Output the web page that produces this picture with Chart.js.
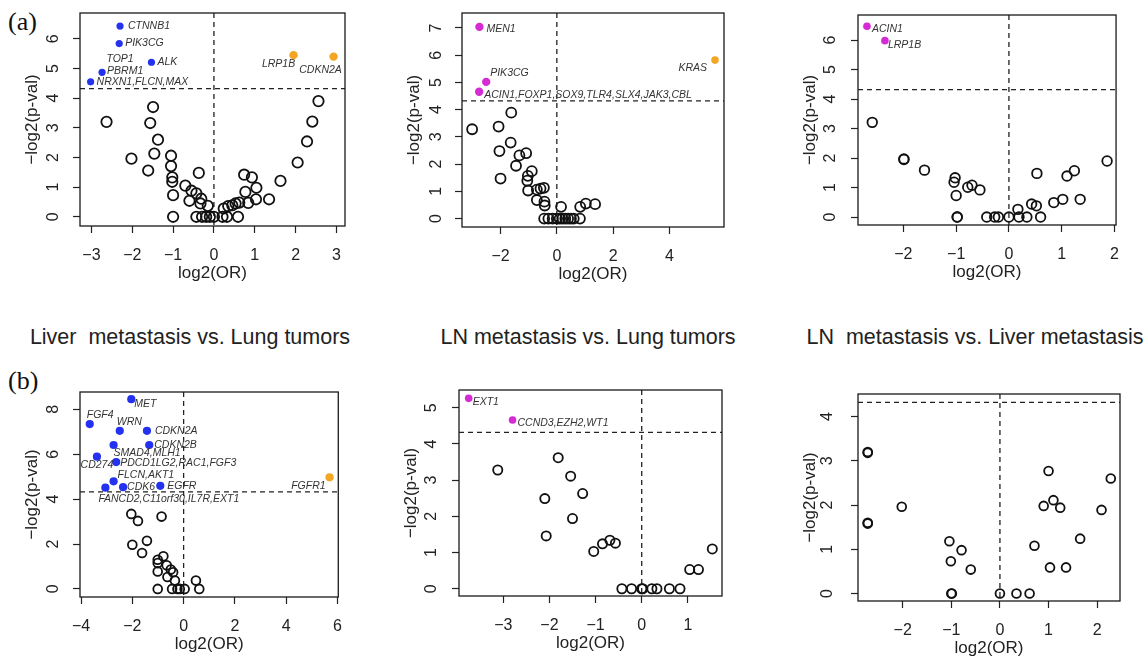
<!DOCTYPE html>
<html><head><meta charset="utf-8">
<script src="https://cdn.jsdelivr.net/npm/chart.js@4.4.1/dist/chart.umd.min.js"></script>
<style>
body{margin:0;background:#fff;}
#wrap{position:relative;width:1148px;height:657px;overflow:hidden;background:#fff;}
#wrap canvas{position:absolute;}
.tag{position:absolute;font-family:"Liberation Serif","Times New Roman",serif;font-size:26px;line-height:26px;color:#111;}
.ttl{position:absolute;font-family:"Liberation Sans",Arial,sans-serif;font-size:21.5px;line-height:22px;color:#222;text-align:center;white-space:pre;}
</style></head><body>
<div id="wrap">
 <div class="tag" style="left:8px;top:9px">(a)</div>
 <div class="tag" style="left:8px;top:368px">(b)</div>
 <div class="ttl" style="left:0px;width:380px;top:326px">Liver  metastasis vs. Lung tumors</div>
 <div class="ttl" style="left:398px;width:380px;top:326px">LN metastasis vs. Lung tumors</div>
 <div class="ttl" style="left:785px;width:380px;top:326px">LN  metastasis vs. Liver metastasis</div>
</div>
<script>
// ---------------- DATA ----------------
const THRESHOLD = -Math.log2(0.05);

// Panel a1: Liver metastasis vs. Lung tumors
const a1OpenX = [-2.63,-2.02,-1.61,-1.56,-1.49,-1.37,-1.46,-1.05,-1.05,-1.02,-1.02,-1.00,-1.00,-0.70,-0.55,-0.43,-0.60,-0.31,-0.33,-0.15,-0.37,-0.43,-0.29,-0.19,-0.10,0.00,0.21,0.32,0.24,0.35,0.45,0.53,0.62,0.59,0.74,0.93,0.77,1.04,1.03,0.84,1.35,1.63,2.05,2.28,2.41,2.56];
const a1OpenY = [3.20,1.96,1.56,3.16,3.70,2.60,2.13,2.06,1.71,1.33,1.18,0.73,0.00,1.05,0.88,0.79,0.54,0.61,0.45,0.37,1.48,0,0,0,0,0,0,0,0.28,0.36,0.39,0.45,0.48,0,1.42,1.33,0.84,0.98,0.59,0.47,0.59,1.21,1.83,2.54,3.21,3.90];
const a1DownGenes = ['CTNNB1','PIK3CG','ALK','PBRM1','NRXN1'];
const a1DownX = [-2.30,-2.32,-1.53,-2.74,-3.02];
const a1DownY = [6.43,5.84,5.21,4.87,4.55];
const a1UpGenes = ['LRP1B','CDKN2A'];
const a1UpX = [1.95,2.93];
const a1UpY = [5.45,5.40];
const a1LabelText = ['CTNNB1','PIK3CG','ALK','TOP1','PBRM1','NRXN1,FLCN,MAX','LRP1B','CDKN2A'];
const a1LabelPoint = [0,1,2,3,3,4,5,6];
const a1XTicks = [-3,-2,-1,0,1,2,3];
const a1YTicks = [0,1,2,3,4,5,6];
const a1XRange = [-3.28,3.21];
const a1YRange = [-0.31,6.87];

// Panel a2: LN metastasis vs. Lung tumors
const a2OpenX = [-3.01,-2.07,-1.62,-2.04,-1.64,-2.00,-1.45,-1.33,-1.09,-1.03,-0.89,-1.05,-1.02,-0.71,-0.71,-0.58,-0.46,-0.44,-0.43,0.15,0.83,1.03,1.36,-0.45,-0.30,-0.15,0.00,0.10,0.20,0.30,0.40,0.50,0.60,0.82];
const a2OpenY = [3.28,3.38,3.89,2.48,2.79,1.47,1.94,2.32,2.40,1.57,1.74,1.39,1.03,0.68,1.06,1.10,1.13,0.62,0.48,0.43,0.43,0.55,0.53,0,0,0,0,0,0,0,0,0,0,0];
const a2DownGenes = ['MEN1','PIK3CG','ACIN1'];
const a2DownX = [-2.75,-2.51,-2.76];
const a2DownY = [7.04,5.02,4.66];
const a2UpGenes = ['KRAS'];
const a2UpX = [5.62];
const a2UpY = [5.82];
const a2LabelText = ['MEN1','PIK3CG','ACIN1,FOXP1,SOX9,TLR4,SLX4,JAK3,CBL','KRAS'];
const a2LabelPoint = [0,1,2,3];
const a2XTicks = [-2,0,2,4];
const a2YTicks = [0,1,2,3,4,5,6,7];
const a2XRange = [-3.37,5.94];
const a2YRange = [-0.31,7.55];

// Panel a3: LN metastasis vs. Liver metastasis
const a3OpenX = [-2.59,-1.99,-1.99,-1.60,-1.02,-1.04,-1.00,-0.98,-0.98,-0.78,-0.70,-0.55,-0.42,-0.27,-0.20,0.00,0.17,0.19,0.34,0.53,0.43,0.52,0.60,0.85,1.02,1.10,1.24,1.35,1.86];
const a3OpenY = [3.21,1.97,1.95,1.59,1.33,1.18,0.73,0,0,1.01,1.08,0.92,0,0,0,0,0.26,0,0,1.48,0.44,0.38,0,0.49,0.60,1.39,1.57,0.60,1.90];
const a3DownGenes = ['ACIN1','LRP1B'];
const a3DownX = [-2.69,-2.35];
const a3DownY = [6.47,5.98];
const a3UpGenes = [];
const a3UpX = [];
const a3UpY = [];
const a3LabelText = ['ACIN1','LRP1B'];
const a3LabelPoint = [0,1];
const a3XTicks = [-2,-1,0,1,2];
const a3YTicks = [0,1,2,3,4,5,6];
const a3XRange = [-2.86,2.03];
const a3YRange = [-0.27,6.85];

// Panel b1: Liver metastasis vs. Lung tumors
const b1OpenX = [-2.04,-1.78,-0.86,-2.00,-1.43,-1.62,-0.79,-1.01,-1.01,-0.66,-1.01,-0.50,-0.41,-0.63,-0.34,-1.01,-0.45,-0.24,-0.15,0.04,0.48,0.61];
const b1OpenY = [3.34,3.03,3.22,1.97,2.14,1.60,1.45,1.30,1.15,1.05,0.78,0.86,0.74,0.53,0.37,0,0,0,0,0,0.37,0];
const b1DownGenes = ['MET','FGF4','WRN','CDKN2A','SMAD4','CDKN2B','CD274','PDCD1LG2','FLCN','FANCD2','CDK6','EGFR'];
const b1DownX = [-2.04,-3.66,-2.49,-1.43,-2.73,-1.34,-3.38,-2.63,-2.73,-3.05,-2.36,-0.91];
const b1DownY = [8.45,7.34,7.04,7.04,6.41,6.41,5.89,5.65,4.79,4.51,4.53,4.59];
const b1UpGenes = ['FGFR1'];
const b1UpX = [5.69];
const b1UpY = [4.97];
const b1LabelText = ['MET','FGF4','WRN','CDKN2A','SMAD4,MLH1','CDKN2B','CD274','PDCD1LG2,RAC1,FGF3','FLCN,AKT1','FANCD2,C11orf30,IL7R,EXT1','CDK6','EGFR','FGFR1'];
const b1LabelPoint = [0,1,2,3,4,5,6,7,8,9,10,11,12];
const b1XTicks = [-4,-2,0,2,4,6];
const b1YTicks = [0,2,4,6,8];
const b1XRange = [-4.04,6.03];
const b1YRange = [-0.36,8.77];

// Panel b2: LN metastasis vs. Lung tumors
const b2OpenX = [-3.12,-1.81,-1.54,-1.28,-2.10,-1.50,-2.07,-1.04,-0.85,-0.69,-0.57,1.53,1.04,1.23,-0.43,-0.22,0.00,0.02,0.22,0.33,0.60,0.83];
const b2OpenY = [3.28,3.62,3.11,2.63,2.49,1.94,1.46,1.03,1.24,1.34,1.26,1.10,0.53,0.53,0,0,0,0,0,0,0,0];
const b2DownGenes = ['EXT1','CCND3'];
const b2DownX = [-3.75,-2.80];
const b2DownY = [5.26,4.66];
const b2UpGenes = [];
const b2UpX = [];
const b2UpY = [];
const b2LabelText = ['EXT1','CCND3,EZH2,WT1'];
const b2LabelPoint = [0,1];
const b2XTicks = [-3,-2,-1,0,1];
const b2YTicks = [0,1,2,3,4,5];
const b2XRange = [-3.96,1.74];
const b2YRange = [-0.20,5.49];

// Panel b3: LN metastasis vs. Liver metastasis
const b3OpenX = [-2.72,-2.72,-2.72,-2.72,-2.02,-1.04,-1.01,-0.79,-0.60,-1.00,-0.99,0.00,0.34,0.61,0.71,1.00,0.90,1.10,1.24,1.03,1.36,1.65,2.09,2.28];
const b3OpenY = [3.18,3.20,1.58,1.60,1.96,1.18,0.73,0.98,0.54,0,0,0,0,0,1.08,2.77,1.98,2.11,1.94,0.59,0.59,1.24,1.89,2.60];
const b3DownGenes = [];
const b3DownX = [];
const b3DownY = [];
const b3UpGenes = [];
const b3UpX = [];
const b3UpY = [];
const b3LabelText = [];
const b3LabelPoint = [];
const b3XTicks = [-2,-1,0,1,2];
const b3YTicks = [0,1,2,3,4];
const b3XRange = [-2.92,2.47];
const b3YRange = [-0.17,4.51];

// ---------------- STYLE / LAYOUT ----------------
const FAMILY = '"Liberation Sans", Arial, Helvetica, sans-serif';
const BLUE = '#2431ee', MAGENTA = '#d52bd5', ORANGE = '#f2a623';
const AX = 62, PAD_T = 10, PAD_R = 12;

const panels = [
  {box:[80,13,265,213], ox:a1OpenX, oy:a1OpenY, dx:a1DownX, dy:a1DownY, ux:a1UpX, uy:a1UpY,
   lt:a1LabelText, lp:a1LabelPoint, xt:a1XTicks, yt:a1YTicks, xr:a1XRange, yr:a1YRange,
   downColor:BLUE, rOpen:5.2, rFill:3.6, rUp:4.2, yGap:27,
   off:[[8,0,'left'],[6,0,'left'],[6,0,'left'],[18,-13,'center'],[5,-1,'left'],[6,0,'left'],[-15,9,'center'],[-13,13,'center']]},
  {box:[462,13,262,214], ox:a2OpenX, oy:a2OpenY, dx:a2DownX, dy:a2DownY, ux:a2UpX, uy:a2UpY,
   lt:a2LabelText, lp:a2LabelPoint, xt:a2XTicks, yt:a2YTicks, xr:a2XRange, yr:a2YRange,
   downColor:MAGENTA, rOpen:5.0, rFill:4.2, rUp:3.8, yGap:26,
   off:[[7,2,'left'],[4,-9,'left'],[5,3,'left'],[-8,8,'right']]},
  {box:[858,15,262,210], ox:a3OpenX, oy:a3OpenY, dx:a3DownX, dy:a3DownY, ux:a3UpX, uy:a3UpY,
   lt:a3LabelText, lp:a3LabelPoint, xt:a3XTicks, yt:a3YTicks, xr:a3XRange, yr:a3YRange,
   downColor:MAGENTA, rOpen:4.8, rFill:3.8, rUp:3.8, yGap:28,
   off:[[5,3,'left'],[3,4,'left']]},
  {box:[80,392,263,205], ox:b1OpenX, oy:b1OpenY, dx:b1DownX, dy:b1DownY, ux:b1UpX, uy:b1UpY,
   lt:b1LabelText, lp:b1LabelPoint, xt:b1XTicks, yt:b1YTicks, xr:b1XRange, yr:b1YRange,
   downColor:BLUE, rOpen:4.4, rFill:4.1, rUp:4.1, yGap:27,
   off:[[3,5,'left'],[-3,-9,'left'],[-3,-9,'left'],[8,0,'left'],[0,8,'left'],[5,0,'left'],[0,8,'center'],[4,1,'left'],[4,-6,'left'],[-7,11,'left'],[4,0,'left'],[7,0,'left'],[-4,9,'right']]},
  {box:[459,390,263,206], ox:b2OpenX, oy:b2OpenY, dx:b2DownX, dy:b2DownY, ux:b2UpX, uy:b2UpY,
   lt:b2LabelText, lp:b2LabelPoint, xt:b2XTicks, yt:b2YTicks, xr:b2XRange, yr:b2YRange,
   downColor:MAGENTA, rOpen:4.6, rFill:3.8, rUp:3.8, yGap:28,
   off:[[4,4,'left'],[5,3,'left']]},
  {box:[858,394,262,207], ox:b3OpenX, oy:b3OpenY, dx:b3DownX, dy:b3DownY, ux:b3UpX, uy:b3UpY,
   lt:b3LabelText, lp:b3LabelPoint, xt:b3XTicks, yt:b3YTicks, xr:b3XRange, yr:b3YRange,
   downColor:MAGENTA, rOpen:4.4, rFill:3.8, rUp:3.8, yGap:31,
   off:[]}
];

const zip = (xs, ys) => xs.map((x, i) => ({x: x, y: ys[i]}));
const fmt = v => (v < 0 ? '\u2212' + Math.abs(v) : String(v));

function makePanel(p) {
  const wrap = document.getElementById('wrap');
  const cv = document.createElement('canvas');
  const [L, T, W, H] = p.box;
  cv.width = W + AX + PAD_R;
  cv.height = H + PAD_T + AX;
  cv.style.left = (L - AX) + 'px';
  cv.style.top = (T - PAD_T) + 'px';
  wrap.appendChild(cv);

  const sigPts = zip(p.dx, p.dy).concat(zip(p.ux, p.uy));

  const panelPlugin = {
    id: 'panelDecor',
    beforeDatasetsDraw(chart) {
      const {ctx, chartArea: a, scales: {x, y}} = chart;
      ctx.save();
      ctx.beginPath(); ctx.rect(a.left, a.top, a.right - a.left, a.bottom - a.top); ctx.clip();
      ctx.strokeStyle = '#222'; ctx.lineWidth = 1.3; ctx.setLineDash([5, 4]);
      const yy = y.getPixelForValue(THRESHOLD);
      ctx.beginPath(); ctx.moveTo(a.left, yy); ctx.lineTo(a.right, yy); ctx.stroke();
      const xx = x.getPixelForValue(0);
      ctx.beginPath(); ctx.moveTo(xx, a.top); ctx.lineTo(xx, a.bottom); ctx.stroke();
      ctx.restore();
    },
    afterDatasetsDraw(chart) {
      const {ctx, chartArea: a, scales: {x, y}} = chart;
      ctx.save();
      ctx.strokeStyle = '#1a1a1a'; ctx.lineWidth = 1.3; ctx.setLineDash([]);
      ctx.strokeRect(a.left, a.top, a.right - a.left, a.bottom - a.top);
      // rotated y tick labels (R style, reading bottom to top), taken from the library's own ticks
      ctx.font = '16px ' + FAMILY;
      ctx.fillStyle = '#222';
      ctx.textAlign = 'center';
      ctx.textBaseline = 'middle';
      y.ticks.forEach(t => {
        const py = y.getPixelForValue(t.value);
        ctx.save();
        ctx.translate(a.left - p.yGap, py);
        ctx.rotate(-Math.PI / 2);
        ctx.fillText(t.label, 0, 1);
        ctx.restore();
      });
      // gene labels
      ctx.font = 'italic 10.5px ' + FAMILY;
      ctx.fillStyle = '#333';
      ctx.textBaseline = 'middle';
      p.lt.forEach((txt, i) => {
        const pt = sigPts[p.lp[i]];
        const o = p.off[i] || [6, 0, 'left'];
        ctx.textAlign = o[2];
        ctx.fillText(txt, x.getPixelForValue(pt.x) + o[0], y.getPixelForValue(pt.y) + o[1]);
      });
      ctx.restore();
    }
  };

  const axisCommon = {
    type: 'linear',
    grid: {display: true, drawOnChartArea: false, drawTicks: true, tickLength: 7, color: '#222', tickColor: '#222', tickWidth: 1.2},
    border: {display: false}
  };

  new Chart(cv, {
    type: 'scatter',
    data: {datasets: [
      {data: zip(p.ox, p.oy), pointRadius: p.rOpen, pointBorderWidth: 1.8, pointBorderColor: '#111', pointBackgroundColor: 'rgba(0,0,0,0)'},
      {data: zip(p.dx, p.dy), pointRadius: p.rFill, pointBorderWidth: 0, pointBorderColor: p.downColor, pointBackgroundColor: p.downColor},
      {data: zip(p.ux, p.uy), pointRadius: p.rUp, pointBorderWidth: 0, pointBorderColor: ORANGE, pointBackgroundColor: ORANGE}
    ]},
    options: {
      responsive: false, animation: false, events: [],
      layout: {padding: {top: PAD_T, right: PAD_R, left: 0, bottom: 0}},
      plugins: {legend: {display: false}, tooltip: {enabled: false}},
      scales: {
        x: Object.assign({}, axisCommon, {
          min: p.xr[0], max: p.xr[1],
          afterBuildTicks: s => { s.ticks = p.xt.map(v => ({value: v})); },
          afterFit: s => { s.height = AX; },
          ticks: {font: {size: 16, family: FAMILY}, color: '#222', padding: 13, maxRotation: 0, autoSkip: false, callback: v => fmt(v)},
          title: {display: true, text: 'log2(OR)', font: {size: 17, family: FAMILY}, color: '#222', padding: {top: 0, bottom: 4}}
        }),
        y: Object.assign({}, axisCommon, {
          min: p.yr[0], max: p.yr[1],
          afterBuildTicks: s => { s.ticks = p.yt.map(v => ({value: v})); },
          afterFit: s => { s.width = AX; },
          ticks: {display: false, autoSkip: false, callback: v => fmt(v)},
          title: {display: true, text: '\u2212log2(p-val)', font: {size: 17, family: FAMILY}, color: '#222', padding: {top: 4, bottom: 0}}
        })
      }
    },
    plugins: [panelPlugin]
  });
}

panels.forEach(makePanel);
</script>
</body></html>
